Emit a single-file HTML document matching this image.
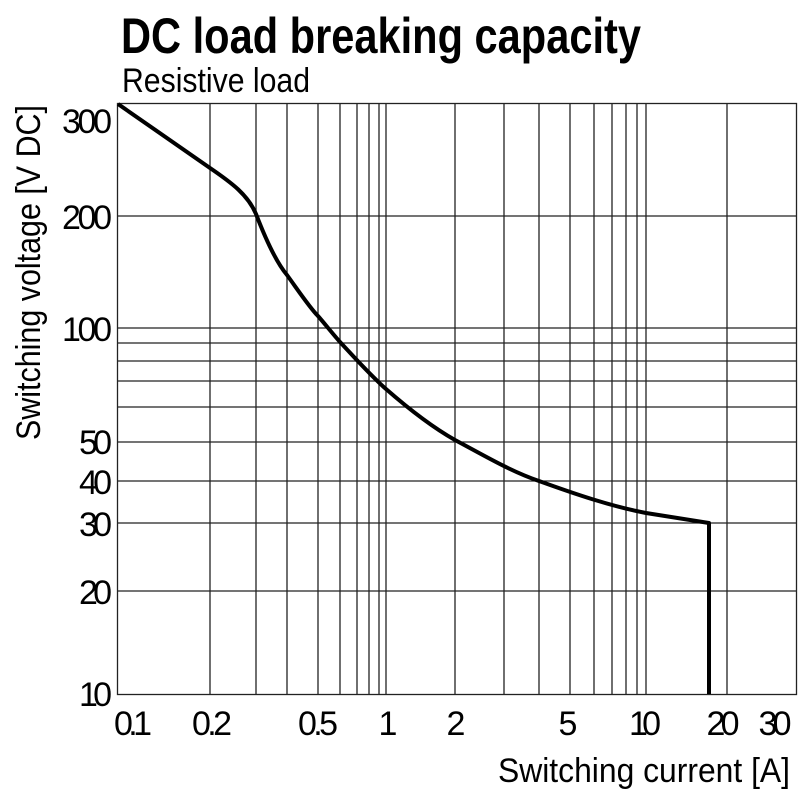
<!DOCTYPE html>
<html><head><style>
body{margin:0;background:#fff}
svg text{font-family:"Liberation Sans Narrow","Liberation Sans",sans-serif;fill:#000}
</style></head><body>
<svg width="800" height="800" viewBox="0 0 800 800" xmlns="http://www.w3.org/2000/svg">
<text x="121" y="53" font-size="50" font-weight="bold" textLength="520" lengthAdjust="spacingAndGlyphs">DC load breaking capacity</text>
<text x="122" y="92" font-size="34" textLength="188" lengthAdjust="spacingAndGlyphs">Resistive load</text>
<g stroke="#222" stroke-width="1.3">
<rect x="117.5" y="103.5" width="679" height="591" fill="none"/>
<path d="M210 103V694M256 103V694M287 103V694M318 103V694M340 103V694M357 103V694M369 103V694M379 103V694M386 103V694M455 103V694M504 103V694M539 103V694M570 103V694M594 103V694M612 103V694M626 103V694M637 103V694M646 103V694M727 103V694"/>
<path d="M117 216H797M117 328H797M117 343H797M117 361H797M117 381H797M117 407H797M117 442H797M117 481H797M117 523H797M117 591H797"/>
</g>
<path d="M118 104 L210 168 C232 183 248 195 256 214 C266 240 276 262 287 275 C300 293 310 308 318 316 C325 324 332 333 340 342 C355 358 370 375 386 389 C410 410 432 427 455 440 C485 456 510 471 539 481 C575 494 610 506 646 513 L709 523 L709 694" fill="none" stroke="#000" stroke-width="4" stroke-linejoin="round"/>
<g font-size="34" text-anchor="end" lengthAdjust="spacingAndGlyphs">
<text x="112" y="133" textLength="50">300</text>
<text x="112" y="229" textLength="50">200</text>
<text x="112" y="341" textLength="50">100</text>
<text x="112" y="454" textLength="33">50</text>
<text x="112" y="494" textLength="33">40</text>
<text x="112" y="536" textLength="33">30</text>
<text x="112" y="604" textLength="33">20</text>
<text x="112" y="706" textLength="33">10</text>
</g>
<g font-size="34" text-anchor="middle" lengthAdjust="spacingAndGlyphs">
<text x="133" y="735" textLength="38">0.1</text>
<text x="212" y="735" textLength="40">0.2</text>
<text x="318" y="735" textLength="40">0.5</text>
<text x="388" y="735" textLength="14">1</text>
<text x="456" y="735" textLength="17">2</text>
<text x="568" y="735" textLength="17">5</text>
<text x="645" y="735" textLength="32">10</text>
<text x="723" y="735" textLength="33">20</text>
<text x="775" y="735" textLength="33">30</text>
</g>
<text x="790" y="782" font-size="34" text-anchor="end" textLength="292" lengthAdjust="spacingAndGlyphs">Switching current [A]</text>
<text transform="translate(40,440) rotate(-90)" font-size="34" textLength="335" lengthAdjust="spacingAndGlyphs">Switching voltage [V DC]</text>
</svg>
</body></html>
